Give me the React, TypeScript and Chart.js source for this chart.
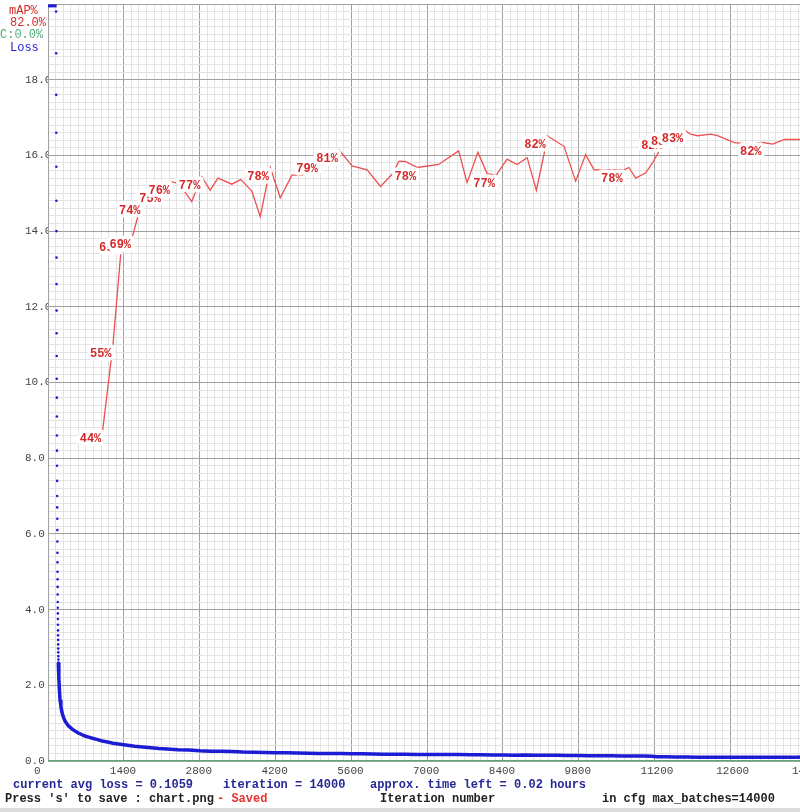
import React, { useEffect, useRef } from "react";
import { Chart, registerables } from "chart.js";

Chart.register(...registerables);

// ---------- data ----------
const maxBatches = 14000;
const maxLoss = 20;

// loss values above the top of the chart are clipped to the top edge
const lossClipIters = [0, 160];
const lossClipValues = [19.95, 19.95];

// early per-iteration loss dots (iteration = 150 + index)
const lossDotStartIter = 150;
const lossDotValues = [
  19.8, 18.7, 17.6, 16.6, 15.7, 14.8, 14.0, 13.3, 12.6, 11.9, 11.3, 10.7, 10.1, 9.6, 9.1, 8.6,
  8.2, 7.8, 7.4, 7.0, 6.7, 6.4, 6.1, 5.8, 5.5, 5.25, 5.0, 4.8, 4.6, 4.4, 4.2, 4.05, 3.9, 3.75,
  3.6, 3.45, 3.32, 3.2, 3.08, 2.97, 2.87, 2.77, 2.68, 2.6,
];

const lossIters = [
  190, 200, 210, 222, 238, 253, 270, 290, 314, 345, 376, 410, 440, 500, 560, 620, 683, 750, 820,
  900, 1000, 1100, 1200, 1300, 1400, 1500, 1600, 1750, 1900, 2050, 2200, 2400, 2600, 2800, 3000,
  3200, 3400, 3600, 3800, 4000, 4200, 4400, 4600, 4800, 5000, 5200, 5400, 5600, 5800, 6000, 6200,
  6400, 6600, 6800, 7000, 7200, 7400, 7600, 7800, 8000, 8200, 8400, 8600, 8800, 9000, 9200, 9400,
  9600, 9800, 10000, 10200, 10400, 10600, 10800, 11000, 11150, 11250, 11400, 11600, 11800, 12000,
  12300, 12600, 12900, 13200, 13500, 13800, 14000,
];
const lossValues = [
  2.6, 2.2, 1.9, 1.62, 1.45, 1.32, 1.22, 1.14, 1.06, 0.99, 0.93, 0.89, 0.85, 0.79, 0.74, 0.7, 0.66,
  0.63, 0.6, 0.57, 0.53, 0.5, 0.47, 0.45, 0.43, 0.41, 0.39, 0.37, 0.35, 0.33, 0.32, 0.3, 0.29, 0.27,
  0.26, 0.255, 0.25, 0.235, 0.23, 0.225, 0.22, 0.215, 0.21, 0.205, 0.2, 0.2, 0.195, 0.19, 0.19,
  0.185, 0.18, 0.18, 0.18, 0.175, 0.175, 0.17, 0.17, 0.17, 0.165, 0.165, 0.16, 0.16, 0.155, 0.16,
  0.155, 0.15, 0.15, 0.145, 0.145, 0.14, 0.14, 0.14, 0.135, 0.135, 0.13, 0.125, 0.115, 0.11, 0.105,
  0.105, 0.1, 0.1, 0.1, 0.1, 0.1, 0.1, 0.1, 0.106,
];

const mapIters = [
  1010, 1200, 1367, 1560, 1735, 2110, 2280, 2415, 2655, 2840, 2995, 3140, 3395, 3560, 3765,
  3920, 4105, 4290, 4505, 4690, 5010, 5380, 5615, 5895, 6140, 6355, 6480, 6600, 6825, 7215, 7585,
  7740, 7940, 8110, 8280, 8480, 8665, 8850, 9020, 9160, 9220, 9530, 9745, 9930, 10085, 10205,
  10640, 10730, 10855, 11040, 11165, 11290, 11380, 11560, 11760, 11870, 11995, 12240, 12365, 12675,
  12980, 13205, 13385, 13600, 13905, 14000,
];
const mapValues = [
  43.7, 55.0, 69.0, 69.3, 73.9, 75.4, 76.5, 76.3, 73.9, 77.2, 75.4, 77.0, 76.2, 76.8, 75.3,
  71.9, 78.4, 74.4, 77.4, 77.4, 79.4, 80.7, 78.6, 78.1, 75.9, 77.5, 79.2, 79.2, 78.4, 78.8, 80.6,
  76.4, 80.4, 77.6, 77.4, 79.5, 78.8, 79.7, 75.4, 80.1, 82.6, 81.2, 76.6, 80.1, 78.1, 78.1, 78.1,
  78.4, 77.0, 77.7, 79.0, 80.6, 82.4, 82.9, 83.3, 82.8, 82.6, 82.8, 82.6, 81.7, 81.5, 81.7, 81.5,
  82.1, 82.1, 82.0,
];
const mapLabels = [
  "44%", "55%", "69%", "69%", "74%", "75%", "76%", "", "", "77%", "", "", "", "", "",
  "", "78%", "", "", "", "79%", "81%", "", "", "", "", "", "", "78%", "", "",
  "", "", "", "77%", "", "", "", "", "", "82%", "", "", "", "", "", "78%",
  "", "", "", "", "", "82%", "83%", "83%", "", "", "", "", "", "", "82%", "",
  "", "", "",
];

const contrIters = [0, 14000];
const contrValues = [0, 0];

const xTickStep = 140;
const xLabelStep = 1400;
const yTickStep = 0.2;

// ---------- styles ----------
const RED_LINE = "rgb(238,80,80)";
const RED_TEXT = "rgb(214,40,40)";
const BLUE = "rgb(28,28,212)";
const GREEN = "rgb(80,172,120)";
const MAJOR = "#a0a0a0";
const MINOR = "#e3e3e3";
const MONO = "'Liberation Mono', 'DejaVu Sans Mono', monospace";

const labelPlugin = {
  id: "mapLabels",
  afterDatasetsDraw(chart: any) {
    const meta = chart.getDatasetMeta(0);
    const ctx = chart.ctx;
    ctx.save();
    ctx.font = `bold 12px ${MONO}`;
    ctx.textAlign = "left";
    ctx.textBaseline = "alphabetic";
    ctx.lineJoin = "round";
    meta.data.forEach((pt: any, i: number) => {
      const t = mapLabels[i];
      if (!t) return;
      const x = pt.x - 23;
      const y = pt.y + 12;
      ctx.strokeStyle = "#ffffff";
      ctx.lineWidth = 7;
      ctx.strokeText(t, x, y);
      ctx.fillStyle = RED_TEXT;
      ctx.fillText(t, x, y);
    });
    ctx.restore();
  },
};

const textPlugin = {
  id: "darknetTexts",
  afterDraw(chart: any) {
    const ctx = chart.ctx;
    ctx.save();
    ctx.textBaseline = "middle";
    ctx.textAlign = "left";
    ctx.font = `12px ${MONO}`;
    ctx.fillStyle = RED_TEXT;
    ctx.fillText("mAP%", 9, 11);
    ctx.fillText("82.0%", 10, 23);
    ctx.fillStyle = GREEN;
    ctx.fillText("C:0.0%", 0, 35);
    ctx.fillStyle = BLUE;
    ctx.fillText("Loss", 10, 48);

    ctx.font = `bold 12px ${MONO}`;
    ctx.fillStyle = "rgb(40,40,150)";
    ctx.fillText("current avg loss = 0.1059", 13, 785);
    ctx.fillText("iteration = 14000", 223, 785);
    ctx.fillText("approx. time left = 0.02 hours", 370, 785);
    ctx.fillStyle = "#222";
    ctx.fillText("Press 's' to save : chart.png", 5, 799);
    ctx.fillStyle = "rgb(230,50,50)";
    ctx.fillText("- Saved", 217, 799);
    ctx.fillStyle = "#222";
    ctx.fillText("Iteration number", 380, 799);
    ctx.fillText("in cfg max_batches=14000", 602, 799);
    ctx.fillStyle = "#dcdcdc";
    ctx.fillRect(0, 808, 860, 4);
    ctx.restore();
  },
};

export default function App() {
  const ref = useRef<HTMLCanvasElement | null>(null);

  useEffect(() => {
    if (!ref.current) return;
    const chart = new Chart(ref.current, {
      type: "scatter",
      data: {
        datasets: [
          {
            label: "mAP%",
            data: mapIters.map((x, i) => ({ x, y: mapValues[i] })),
            yAxisID: "y2",
            showLine: true,
            borderColor: RED_LINE,
            borderWidth: 1.3,
            pointRadius: 0,
            order: 1,
          },
          {
            label: "Loss",
            data: lossIters.map((x, i) => ({ x, y: lossValues[i] })),
            yAxisID: "y",
            showLine: true,
            borderColor: BLUE,
            borderWidth: 3.5,
            pointRadius: 0,
            order: 2,
          },
          {
            label: "Loss dots",
            data: lossDotValues.map((y, i) => ({ x: lossDotStartIter + i, y })),
            yAxisID: "y",
            showLine: false,
            pointRadius: 1.3,
            pointBorderWidth: 0,
            pointBackgroundColor: BLUE,
            order: 2,
          },
          {
            label: "Loss clipped",
            data: lossClipIters.map((x, i) => ({ x, y: lossClipValues[i] })),
            yAxisID: "y",
            showLine: true,
            borderColor: BLUE,
            borderWidth: 3,
            pointRadius: 0,
            order: 2,
          },
          {
            label: "C",
            data: contrIters.map((x, i) => ({ x, y: contrValues[i] })),
            yAxisID: "y",
            showLine: true,
            borderColor: GREEN,
            borderWidth: 2,
            pointRadius: 0,
            order: 3,
          },
        ],
      },
      options: {
        responsive: false,
        maintainAspectRatio: false,
        devicePixelRatio: 1,
        animation: false,
        events: [],
        layout: { padding: { left: 25, top: 3, right: 54, bottom: 0 } },
        plugins: { legend: { display: false }, tooltip: { enabled: false } },
        scales: {
          x: {
            type: "linear",
            min: 0,
            max: maxBatches,
            afterFit(scale: any) {
              scale.height = 51;
              scale.paddingLeft = 0;
              scale.paddingRight = 0;
            },
            grid: {
              drawTicks: false,
              color: (c: any) =>
                c.tick && Math.round(c.tick.value) % xLabelStep === 0 ? MAJOR : MINOR,
              lineWidth: 1,
            },
            border: { display: false },
            ticks: {
              stepSize: xTickStep,
              autoSkip: false,
              maxRotation: 0,
              minRotation: 0,
              align: "start",
              labelOffset: -14,
              padding: 3,
              color: "#444",
              font: { family: MONO, size: 11 },
              callback: (v: any) =>
                Math.round(v) % xLabelStep === 0 ? String(Math.round(v)) : "",
            },
          },
          y: {
            type: "linear",
            min: 0,
            max: maxLoss,
            afterFit(scale: any) {
              scale.width = 23;
              scale.paddingTop = 0;
              scale.paddingBottom = 0;
            },
            grid: {
              drawTicks: false,
              color: (c: any) =>
                c.tick && Math.round(c.tick.value * 10) % 20 === 0 ? MAJOR : MINOR,
              lineWidth: 1,
            },
            border: { display: true, color: MAJOR },
            ticks: {
              stepSize: yTickStep,
              autoSkip: false,
              crossAlign: "far",
              color: "#444",
              font: { family: MONO, size: 11 },
              callback: (v: any) => {
                const k = Math.round(v * 10);
                return k % 20 === 0 && k !== 200 ? (k / 10).toFixed(1) : "";
              },
            },
          },
          y2: {
            type: "linear",
            display: false,
            min: 0,
            max: 100,
          },
        },
      },
      plugins: [labelPlugin, textPlugin],
    } as any);
    return () => chart.destroy();
  }, []);

  return (
    <div
      style={{
        position: "fixed",
        left: 0,
        top: 0,
        width: 800,
        height: 812,
        overflow: "hidden",
        background: "#ffffff",
      }}
    >
      <canvas ref={ref} width={860} height={812} style={{ display: "block" }} />
    </div>
  );
}
